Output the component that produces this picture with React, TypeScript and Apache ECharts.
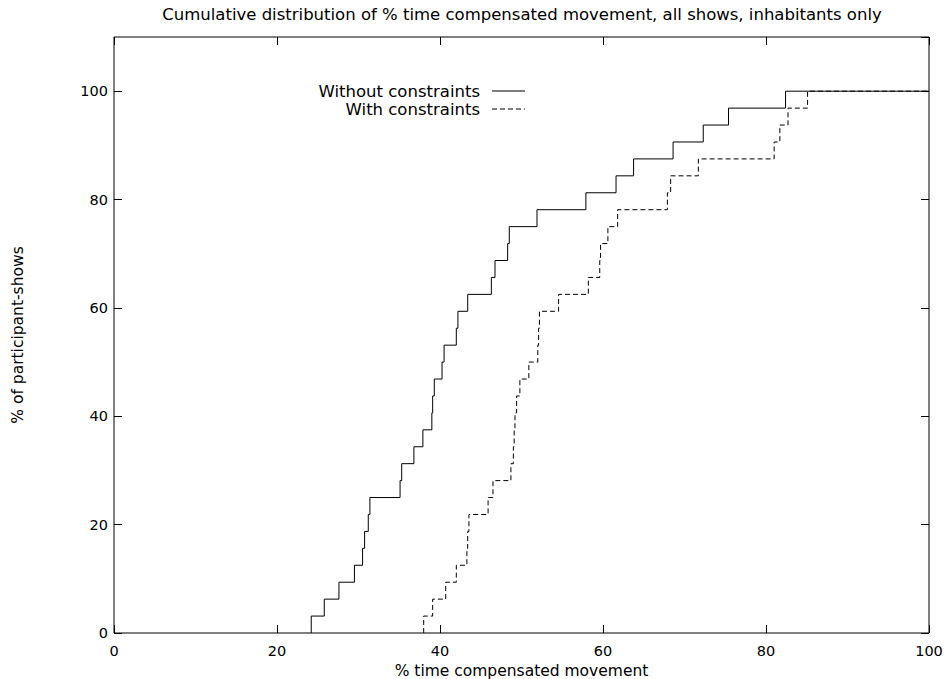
import React, { useEffect, useRef } from 'react';
import * as echarts from 'echarts';

const titleText = 'Cumulative distribution of % time compensated movement, all shows, inhabitants only';
const xAxisName = '% time compensated movement';
const yAxisName = '% of participant-shows';
const seriesNames = ['Without constraints', 'With constraints'];

// cumulative share of participant-shows (steps of 1/32)
const cumulativePct = [
  0, 3.125, 6.25, 9.375, 12.5, 15.625, 18.75, 21.875, 25, 28.125, 31.25, 34.375,
  37.5, 40.625, 43.75, 46.875, 50, 53.125, 56.25, 59.375, 62.5, 65.625, 68.75,
  71.875, 75, 78.125, 81.25, 84.375, 87.5, 90.625, 93.75, 96.875, 100, 100,
];

const withoutX = [
  24.2, 24.2, 25.8, 27.6, 29.5, 30.5, 30.75, 31.2, 31.4, 35.1, 35.3, 36.8, 37.9,
  39.0, 39.1, 39.3, 40.25, 40.5, 42.0, 42.2, 43.4, 46.3, 46.75, 48.3, 48.5, 51.9,
  57.9, 61.6, 63.75, 68.6, 72.3, 75.4, 82.4, 100,
];

const withX = [
  38.0, 38.0, 39.1, 40.7, 42.0, 43.3, 43.4, 43.55, 45.9, 46.5, 48.7, 49.0, 49.1,
  49.2, 49.4, 49.8, 50.9, 52.0, 52.1, 52.2, 54.55, 58.2, 59.6, 59.7, 60.6, 61.8,
  67.9, 68.3, 71.7, 81.0, 81.7, 82.7, 85.1, 100,
];

const FONT = 'DejaVu Sans, Liberation Sans, Arial, sans-serif';

const W = 949;
const H = 679;

export default function App() {
  const ref = useRef<HTMLDivElement>(null);

  useEffect(() => {
    if (!ref.current) return;
    const chart = echarts.init(ref.current, null, { renderer: 'svg' });
    const tickIn = () => ({ show: true, inside: true, length: 8, lineStyle: { color: '#000', width: 1 } });
    const noLine = () => ({ show: false, onZero: false });
    const xBase = { type: 'value', min: 0, max: 100, interval: 20, splitLine: { show: false } };
    const yBase = { type: 'value', min: 0, max: 110, interval: 20, splitLine: { show: false } };
    chart.setOption({
      animation: false,
      backgroundColor: '#fff',
      textStyle: { fontFamily: FONT, color: '#000' },
      grid: {
        left: 114,
        right: 20,
        top: 37,
        bottom: 46,
        containLabel: false,
        outerBoundsMode: 'none',
        show: true,
        borderColor: '#000',
        borderWidth: 1,
        backgroundColor: 'transparent',
      },
      xAxis: [
        {
          ...xBase,
          position: 'bottom',
          axisLine: noLine(),
          axisTick: tickIn(),
          axisLabel: { color: '#000', fontSize: 14.5, margin: 10, fontFamily: FONT },
          name: xAxisName,
          nameLocation: 'middle',
          nameGap: 23,
          nameTextStyle: { color: '#000', fontSize: 15.5, fontFamily: FONT },
        },
        {
          ...xBase,
          position: 'top',
          axisLine: noLine(),
          axisTick: tickIn(),
          axisLabel: { show: false },
        },
      ],
      yAxis: [
        {
          ...yBase,
          position: 'left',
          axisLine: noLine(),
          axisTick: tickIn(),
          axisLabel: { color: '#000', fontSize: 14.5, margin: 6, showMaxLabel: false, fontFamily: FONT },
          name: yAxisName,
          nameLocation: 'middle',
          nameGap: 88,
          nameTextStyle: { color: '#000', fontSize: 15.5, fontFamily: FONT },
        },
        {
          ...yBase,
          position: 'right',
          axisLine: noLine(),
          axisTick: tickIn(),
          axisLabel: { show: false },
        },
      ],
      series: [
        {
          type: 'line',
          name: seriesNames[0],
          xAxisIndex: 0,
          yAxisIndex: 0,
          step: 'end',
          symbol: 'none',
          data: withoutX.map((x, i) => [x, cumulativePct[i]]),
          lineStyle: { color: '#000', width: 1, type: 'solid' },
          itemStyle: { color: '#000' },
        },
        {
          type: 'line',
          name: seriesNames[1],
          xAxisIndex: 0,
          yAxisIndex: 0,
          step: 'end',
          symbol: 'none',
          data: withX.map((x, i) => [x, cumulativePct[i]]),
          lineStyle: { color: '#000', width: 1, type: [5, 3] },
          itemStyle: { color: '#000' },
        },
      ],
      graphic: [
        {
          type: 'text',
          x: 522,
          y: 14,
          style: {
            text: titleText,
            fontSize: 16.5,
            fontFamily: FONT,
            fill: '#000',
            align: 'center',
            verticalAlign: 'middle',
          },
        },
        {
          type: 'text',
          x: 480,
          y: 91,
          style: {
            text: seriesNames[0],
            fontSize: 16.5,
            fontFamily: FONT,
            fill: '#000',
            align: 'right',
            verticalAlign: 'middle',
          },
        },
        {
          type: 'line',
          shape: { x1: 492, y1: 91, x2: 525, y2: 91 },
          style: { stroke: '#000', lineWidth: 1 },
        },
        {
          type: 'text',
          x: 480,
          y: 109,
          style: {
            text: seriesNames[1],
            fontSize: 16.5,
            fontFamily: FONT,
            fill: '#000',
            align: 'right',
            verticalAlign: 'middle',
          },
        },
        {
          type: 'line',
          shape: { x1: 492, y1: 109, x2: 525, y2: 109 },
          style: { stroke: '#000', lineWidth: 1, lineDash: [5, 3] },
        },
      ],
    });
    return () => chart.dispose();
  }, []);

  return (
    <div
      ref={ref}
      style={{ position: 'fixed', left: 0, top: 0, width: W, height: H, background: '#fff' }}
    />
  );
}
